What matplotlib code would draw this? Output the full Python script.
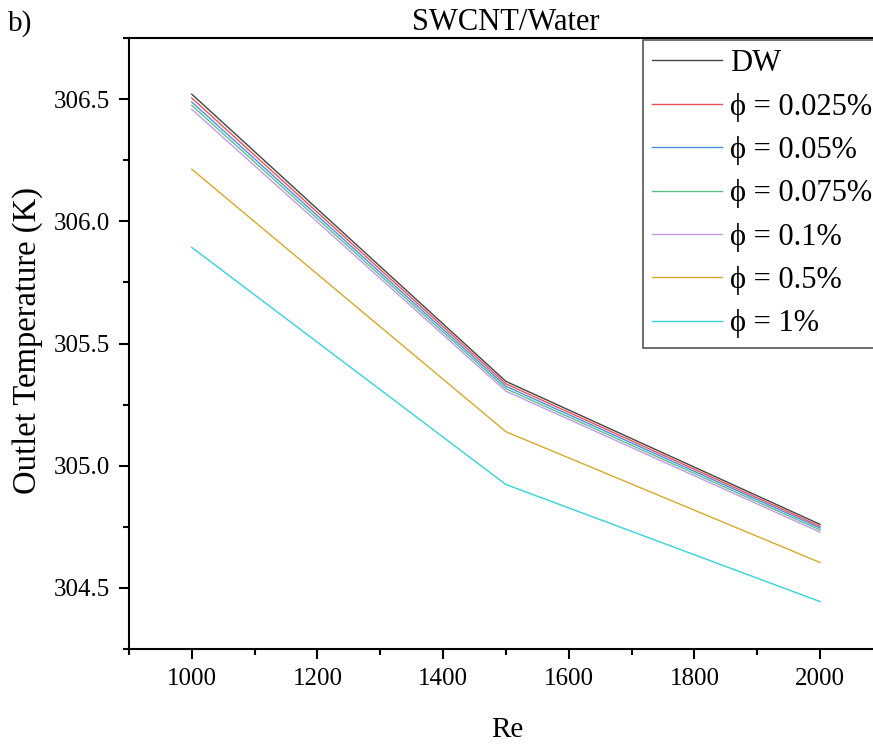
import numpy as np
import matplotlib
matplotlib.use("Agg")
from matplotlib import pyplot as plt
from matplotlib.ticker import MultipleLocator, FormatStrFormatter

plt.rcParams["font.family"] = ["Liberation Serif", "DejaVu Serif"]

# Reynolds numbers
re_vals = [1000, 1500, 2000]

# outlet temperature (K) for each case
t_dw = [306.520, 305.345, 304.760]
t_0025 = [306.504, 305.335, 304.752]
t_005 = [306.488, 305.325, 304.745]
t_0075 = [306.474, 305.315, 304.737]
t_01 = [306.458, 305.305, 304.728]
t_05 = [306.213, 305.139, 304.604]
t_1 = [305.893, 304.923, 304.444]

labels = ["DW", "ϕ = 0.025%", "ϕ = 0.05%", "ϕ = 0.075%", "ϕ = 0.1%", "ϕ = 0.5%", "ϕ = 1%"]
colors = ["#444444", "#f05050", "#4a8fe8", "#5cc08a", "#c49ae8", "#d9a82a", "#33d4d8"]

fig = plt.figure(figsize=(8.73, 7.45), dpi=100)
ax = fig.add_axes([129 / 873, 96 / 745, (1200 * 0.6282) / 873, 611 / 745])

series = [t_dw, t_0025, t_005, t_0075, t_01, t_05, t_1]
for ys, lab, c in zip(series, labels, colors):
    ax.plot(re_vals, ys, color=c, lw=1.0, label=lab)

ax.set_xlim(900, 2100)
ax.set_ylim(304.25, 306.75)
ax.xaxis.set_major_locator(MultipleLocator(200))
ax.xaxis.set_minor_locator(MultipleLocator(100))
ax.yaxis.set_major_locator(MultipleLocator(0.5))
ax.yaxis.set_minor_locator(MultipleLocator(0.25))
ax.yaxis.set_major_formatter(FormatStrFormatter("%.1f"))

ax.tick_params(which="major", direction="out", length=7.5, width=1.5, labelsize=18, pad=6)
ax.tick_params(which="minor", direction="out", length=4, width=1.5)
ax.tick_params(top=False, right=False)
for s in ax.spines.values():
    s.set_linewidth(1.5)

fig.text(507 / 873, 1 - 730 / 745, "Re", fontsize=21, ha="center", va="center")
fig.text(28 / 873, 1 - 341 / 745, "Outlet Temperature (K)", fontsize=23.5,
         rotation=90, ha="center", va="center")
fig.text(506 / 873, 1 - 22 / 745, "SWCNT/Water", fontsize=22, ha="center", va="center")
fig.text(8 / 873, 1 - 24 / 745, "b)", fontsize=21, ha="left", va="center")

leg = ax.legend(loc="upper left", bbox_to_anchor=(643 / 873, 1 - 40 / 745),
                bbox_transform=fig.transFigure, borderaxespad=0, fontsize=22,
                handlelength=2.3, handletextpad=0.25, labelspacing=0.47,
                borderpad=0.3, fancybox=False, framealpha=1, edgecolor="#555555")
leg.get_frame().set_linewidth(1.2)

fig.savefig("out.png", dpi=100)
